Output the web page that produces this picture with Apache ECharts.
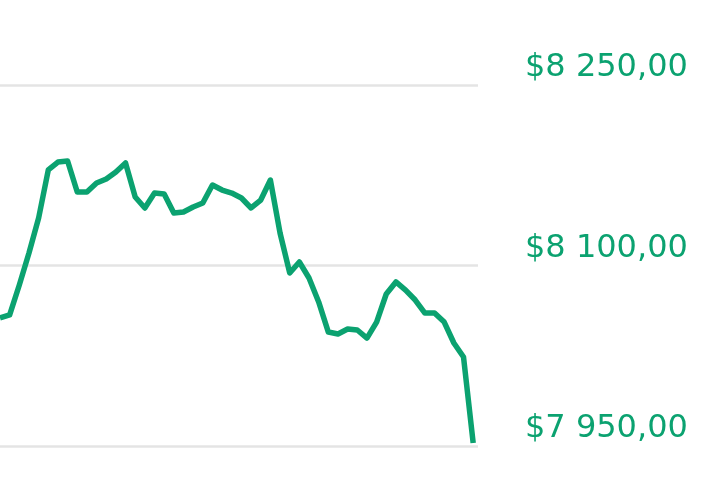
<!DOCTYPE html>
<html>
<head>
<meta charset="utf-8">
<script src="https://cdn.jsdelivr.net/npm/echarts@6/dist/echarts.min.js"></script>
<style>
html,body{margin:0;padding:0;background:#fff;}
#c{width:716px;height:503px;}
</style>
</head>
<body>
<div id="c"></div>
<script>
// Price series (one value per step, left to right)
const steps = [0,1,2,3,4,5,6,7,8,9,10,11,12,13,14,15,16,17,18,19,20,21,22,23,24,25,26,27,28,29,30,31,32,33,34,35,36,37,38,39,40,41,42,43,44,45,46,47,48,49];
const prices = [8056.4,8058.9,8083.8,8110.4,8139.5,8179.4,8186.0,8186.8,8161.1,8161.1,
  8168.6,8171.9,8177.7,8185.2,8156.9,8147.8,8160.2,8159.4,8143.6,8144.5,
  8148.6,8151.9,8166.9,8162.7,8160.2,8156.1,8147.8,8154.4,8171.0,8127.0,
  8093.8,8102.9,8089.6,8069.7,8044.7,8043.1,8047.2,8046.4,8039.7,8053.0,
  8076.3,8086.3,8079.6,8071.3,8060.5,8060.5,8053.0,8035.6,8024.0,7952.5];
// Y axis ticks
const yTicks = [7950, 8100, 8250];

const green = '#0ba270';

function fmt(v){
  const parts = v.toFixed(2).split('.');
  const intPart = parts[0].replace(/\B(?=(\d{3})+(?!\d))/g, ' ');
  return '$' + intPart + ',' + parts[1];
}

const chart = echarts.init(document.getElementById('c'));
chart.setOption({
  animation:false,
  backgroundColor:'#ffffff',
  grid:{left:0,right:238,top:85,bottom:57,containLabel:false},
  xAxis:{type:'value',min:0,max:49.5,show:false},
  yAxis:{
    type:'value',position:'right',
    min:yTicks[0],max:yTicks[yTicks.length-1],interval:yTicks[1]-yTicks[0],
    axisLine:{show:false},axisTick:{show:false},
    splitLine:{show:true,lineStyle:{color:'#e4e4e4',width:2.5}},
    axisLabel:{
      show:true,margin:47,align:'left',verticalAlign:'bottom',lineHeight:34,
      color:green,fontFamily:'DejaVu Sans',fontSize:32,
      formatter:fmt
    }
  },
  series:[{
    type:'line',
    data:steps.map((s,i)=>[s,prices[i]]),
    showSymbol:false,symbol:'none',
    lineStyle:{color:green,width:5.5,join:'round'},
    clip:false
  }]
});
</script>
</body>
</html>
